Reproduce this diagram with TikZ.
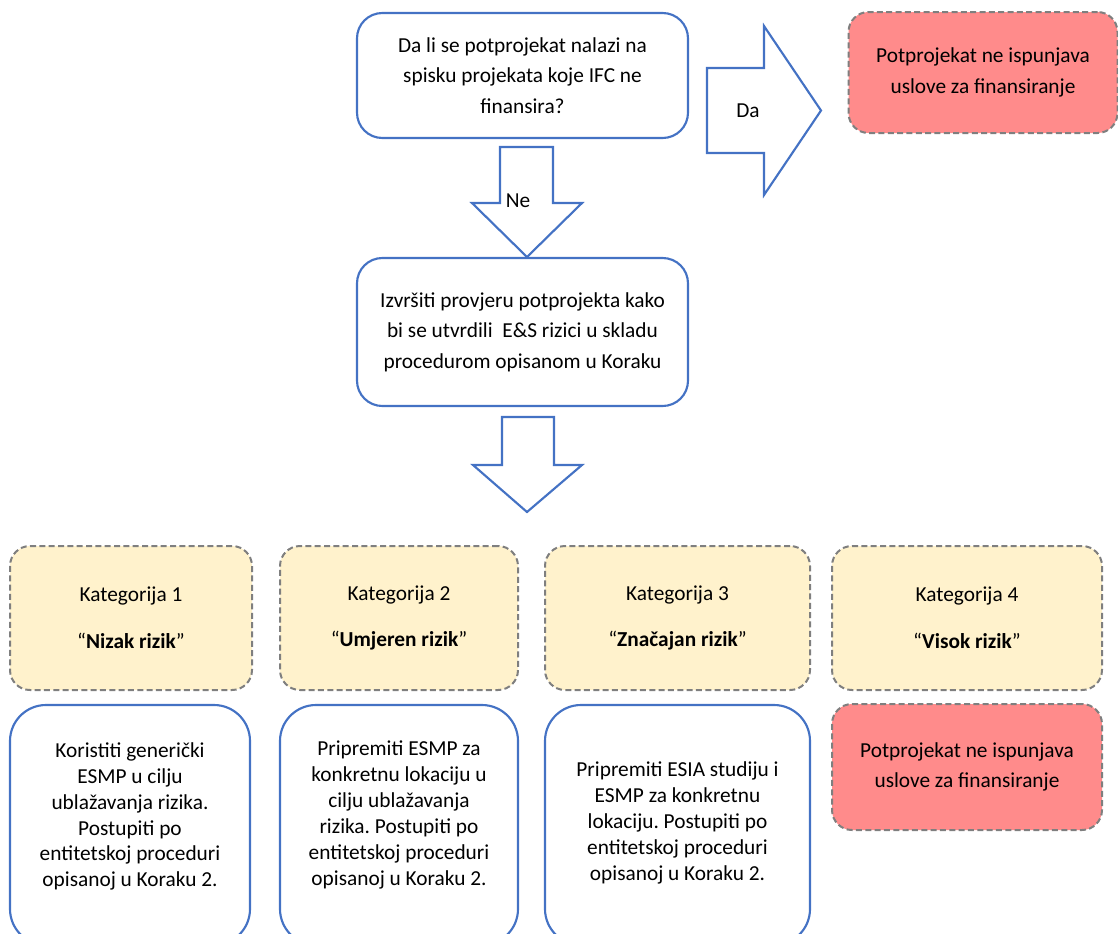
\documentclass[tikz,border=0pt]{standalone}
\usepackage{fontspec}
\setmainfont{Carlito}
\frenchspacing
\definecolor{bl}{HTML}{4472C4}
\definecolor{gr}{HTML}{7F7F7F}
\definecolor{yl}{HTML}{FFF2CC}
\definecolor{rd}{HTML}{FF8B8B}
\begin{document}
\begin{tikzpicture}[x=0.75pt,y=-0.75pt,
  txt/.style={font=\fontsize{16}{23}\selectfont},
  smalltxt/.style={align=center, inner sep=0pt, font=\fontsize{16}{19.4}\selectfont},
  bluebox/.style={draw=bl, line width=1.6pt, rounded corners=19pt, fill=white, align=center, inner sep=0pt, txt},
  tallbox/.style={bluebox, rounded corners=27pt, minimum height=180pt},
  dashbox/.style={draw=gr, line width=1.5pt, dash pattern=on 4.5pt off 2.5pt, rounded corners=15pt, align=center, inner sep=0pt, txt},
  catbox/.style={dashbox, fill=yl, minimum height=108pt},
  redbox/.style={dashbox, fill=rd},
  blockarrow/.style={draw=bl, line width=1.6pt, fill=white, line join=miter}
]
\useasboundingbox (0,0) rectangle (1118,933);

% top question
\node[bluebox, minimum width=248.25pt, minimum height=93.75pt] (q) at (522.5,75.5)
  {Da li se potprojekat nalazi na\\spisku projekata koje IFC ne\\finansira?};
\node[redbox, minimum width=201.75pt, minimum height=90.75pt] (no1) at (983,72.5)
  {Potprojekat ne ispunjava\\uslove za finansiranje};

% right arrow "Da"
\draw[blockarrow] (707,68) -- (764,68) -- (764,26) -- (821,110.5) -- (764,195) -- (764,153) -- (707,153) -- cycle;
\node[txt] (da) at (748,111) {Da};

% screening box
\node[bluebox, minimum width=248.25pt, minimum height=111pt] (scr) at (522.5,332)
  {Izvršiti provjeru potprojekta kako\\bi se utvrdili\ \ E\&S rizici u skladu\\procedurom opisanom u Koraku};

% down arrow "Ne"
\draw[blockarrow] (500,147) -- (553,147) -- (553,203) -- (582,203) -- (527,257) -- (472,203) -- (500,203) -- cycle;
\node[txt] (ne) at (518,201) {Ne};

% down arrow 2
\draw[blockarrow] (502,417) -- (554,417) -- (554,465) -- (582,465) -- (527,512) -- (473,465) -- (502,465) -- cycle;

% categories
\node[catbox, minimum width=181.5pt] (c1) at (131,618) {Kategorija 1\\[12pt]“\textbf{Nizak rizik}”};
\node[catbox, minimum width=178.5pt] (c2) at (399,618) {Kategorija 2\\[12pt]“\textbf{Umjeren rizik}”};
\node[catbox, minimum width=198.75pt] (c3) at (677.5,618) {Kategorija 3\\[12pt]“\textbf{Značajan rizik}”};
\node[catbox, minimum width=202.5pt] (c4) at (967,618) {Kategorija 4\\[12pt]“\textbf{Visok rizik}”};

% actions
\node[tallbox, minimum width=180pt] (a1) at (130,825) {};
\node[smalltxt] (a1t) at (130,816.5)
  {Koristiti generički\\ESMP u cilju\\ublažavanja rizika.\\Postupiti po\\entitetskoj proceduri\\opisanoj u Koraku 2.};
\node[tallbox, minimum width=178.5pt] (a2) at (399,825) {};
\node[smalltxt] (a2t) at (399,815)
  {Pripremiti ESMP za\\konkretnu lokaciju u\\cilju ublažavanja\\rizika. Postupiti po\\entitetskoj proceduri\\opisanoj u Koraku 2.};
\node[tallbox, minimum width=198.75pt] (a3) at (677.5,825) {};
\node[smalltxt] (a3t) at (677.5,823)
  {Pripremiti ESIA studiju i\\ESMP za konkretnu\\lokaciju. Postupiti po\\entitetskoj proceduri\\opisanoj u Koraku 2.};
\node[redbox, minimum width=202.5pt, minimum height=94.5pt] (no2) at (967,767)
  {Potprojekat ne ispunjava\\uslove za finansiranje};
\end{tikzpicture}
\end{document}
